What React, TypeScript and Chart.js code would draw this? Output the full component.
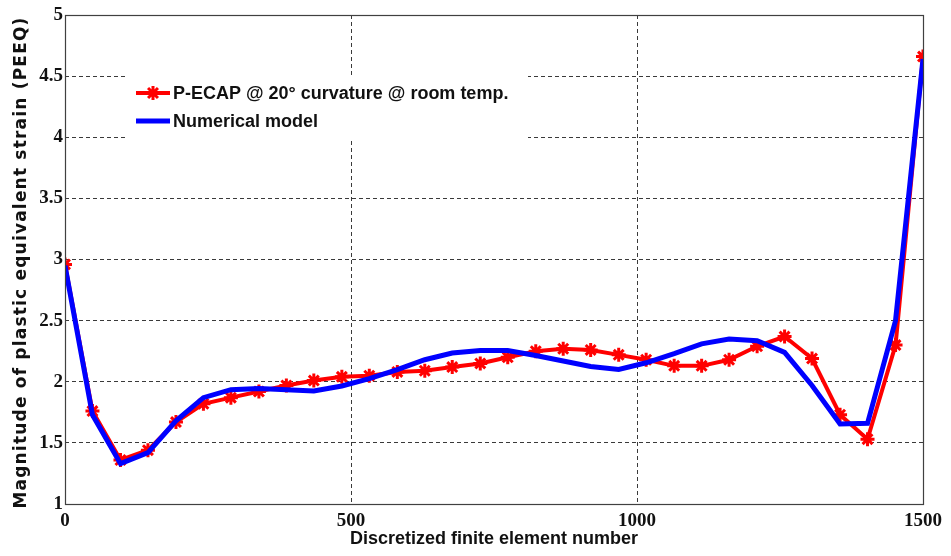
import { useEffect, useRef } from "react";
import { Chart, registerables } from "chart.js";

Chart.register(...registerables);

// Element numbers along the deformed billet (x positions of the samples)
const elementNumbers = [
  0, 48, 97, 145, 194, 242, 290, 339, 387, 435, 484, 532, 581, 629, 677, 726,
  774, 823, 871, 919, 968, 1016, 1065, 1113, 1161, 1210, 1258, 1306, 1355, 1403,
  1452, 1500,
];

// PEEQ measured for P-ECAP at 20° curvature, room temperature
const pecapStrain = [
  2.96, 1.76, 1.36, 1.44, 1.67, 1.82, 1.87, 1.92, 1.97, 2.01, 2.04, 2.05, 2.08,
  2.09, 2.12, 2.15, 2.2, 2.25, 2.27, 2.26, 2.22, 2.18, 2.13, 2.13, 2.18, 2.29,
  2.37, 2.19, 1.73, 1.53, 2.3, 4.66,
];

// PEEQ predicted by the numerical model
const modelStrain = [
  2.95, 1.73, 1.33, 1.42, 1.68, 1.87, 1.935, 1.945, 1.935, 1.925, 1.965, 2.025,
  2.1, 2.18, 2.235, 2.255, 2.255, 2.215, 2.17, 2.125, 2.1, 2.155, 2.23, 2.31,
  2.35, 2.335, 2.24, 1.97, 1.655, 1.66, 2.5, 4.64,
];

const xTickValues = [0, 500, 1000, 1500];
const yTickValues = [1, 1.5, 2, 2.5, 3, 3.5, 4, 4.5, 5];

const seriesLabels = ["P-ECAP @ 20° curvature @ room temp.", "Numerical model"];
const xTitle = "Discretized finite element number";
const yTitle = "Magnitude of plastic equivalent strain (PEEQ)";

const RED = "#ff0000";
const BLUE = "#0000ff";
const GRID = "#3a3a3a";

const frameAndLabels = {
  id: "frameAndLabels",
  afterDraw(chart: any) {
    const { ctx, chartArea } = chart;
    const { left, top, right, bottom } = chartArea;

    // plot frame
    ctx.save();
    ctx.strokeStyle = "#404040";
    ctx.lineWidth = 1.2;
    ctx.strokeRect(left + 0.5, top + 0.5, right - left, bottom - top);
    ctx.restore();

    // rotated y-axis title with wide tracking
    ctx.save();
    ctx.translate(22, (top + bottom) / 2 + 3);
    ctx.rotate(-Math.PI / 2);
    ctx.font = "bold 17px 'DejaVu Sans'";
    (ctx as any).letterSpacing = "1.2px";
    ctx.fillStyle = "#111";
    ctx.textAlign = "center";
    ctx.textBaseline = "middle";
    ctx.fillText(yTitle, 0, 0);
    ctx.restore();

    // legend box inside the plot
    const bx = left + 63;
    const by = top + 60;
    ctx.save();
    ctx.fillStyle = "#ffffff";
    ctx.fillRect(bx, by, 400, 65);
    const lx0 = bx + 8;
    const lx1 = bx + 42;
    const rows = [
      { y: by + 18, color: RED, width: 4, star: true },
      { y: by + 46, color: BLUE, width: 5, star: false },
    ];
    rows.forEach((r, i) => {
      ctx.strokeStyle = r.color;
      ctx.lineWidth = r.width;
      ctx.beginPath();
      ctx.moveTo(lx0, r.y);
      ctx.lineTo(lx1, r.y);
      ctx.stroke();
      if (r.star) {
        const cx = (lx0 + lx1) / 2;
        ctx.lineWidth = 3;
        ctx.beginPath();
        const rr = 7;
        for (let k = 0; k < 4; k++) {
          const a = (k * Math.PI) / 4;
          ctx.moveTo(cx - rr * Math.cos(a), r.y - rr * Math.sin(a));
          ctx.lineTo(cx + rr * Math.cos(a), r.y + rr * Math.sin(a));
        }
        ctx.stroke();
      }
      ctx.fillStyle = "#111";
      ctx.font = "bold 18px 'Liberation Sans'";
      ctx.textAlign = "left";
      ctx.textBaseline = "middle";
      ctx.fillText(seriesLabels[i], lx1 + 3, r.y + 1);
    });
    ctx.restore();
  },
};

export default function App() {
  const canvasRef = useRef<HTMLCanvasElement | null>(null);

  useEffect(() => {
    const canvas = canvasRef.current;
    if (!canvas) return;

    const chart = new Chart(canvas, {
      type: "line",
      data: {
        datasets: [
          {
            label: seriesLabels[0],
            data: elementNumbers.map((x, i) => ({ x, y: pecapStrain[i] })),
            borderColor: RED,
            backgroundColor: RED,
            borderWidth: 4,
            pointStyle: "star",
            pointRadius: 7,
            pointBorderWidth: 3,
            pointBorderColor: RED,
            tension: 0,
            order: 1,
          },
          {
            label: seriesLabels[1],
            data: elementNumbers.map((x, i) => ({ x, y: modelStrain[i] })),
            borderColor: BLUE,
            backgroundColor: BLUE,
            borderWidth: 5,
            pointRadius: 0,
            tension: 0,
            order: 0,
          },
        ],
      },
      options: {
        responsive: false,
        animation: false,
        layout: { padding: { top: 15, right: 28, left: 0, bottom: 0 } },
        plugins: {
          legend: { display: false },
          tooltip: { enabled: false },
        },
        scales: {
          x: {
            type: "linear",
            min: 0,
            max: 1500,
            afterFit: (s: any) => {
              s.height = 52;
            },
            afterBuildTicks: (s: any) => {
              s.ticks = xTickValues.map((v) => ({ value: v }));
            },
            border: { display: false, dash: [4, 3] },
            grid: {
              color: GRID,
              lineWidth: 1,
              drawTicks: false,
            },
            ticks: {
              padding: 6,
              color: "#111",
              font: { family: "'Liberation Serif'", size: 19, weight: "bold" },
              maxRotation: 0,
              callback: (v: any) => String(v),
            },
            title: {
              display: true,
              text: xTitle,
              color: "#111",
              font: { family: "'Liberation Sans'", size: 18, weight: "bold" },
              padding: { top: 0, bottom: 6 },
            },
          },
          y: {
            type: "linear",
            min: 1,
            max: 5,
            afterFit: (s: any) => {
              s.width = 65;
            },
            afterBuildTicks: (s: any) => {
              s.ticks = yTickValues.map((v) => ({ value: v }));
            },
            border: { display: false, dash: [4, 3] },
            grid: {
              color: GRID,
              lineWidth: 1,
              drawTicks: false,
            },
            ticks: {
              padding: 2,
              color: "#111",
              font: { family: "'Liberation Serif'", size: 19, weight: "bold" },
              callback: (v: any) => String(v),
            },
          },
        },
      },
      plugins: [frameAndLabels],
    } as any);

    return () => chart.destroy();
  }, []);

  return (
    <div style={{ position: "fixed", left: 0, top: 0, width: 951, height: 556, background: "#fff" }}>
      <canvas ref={canvasRef} width={951} height={556} style={{ display: "block" }} />
    </div>
  );
}
